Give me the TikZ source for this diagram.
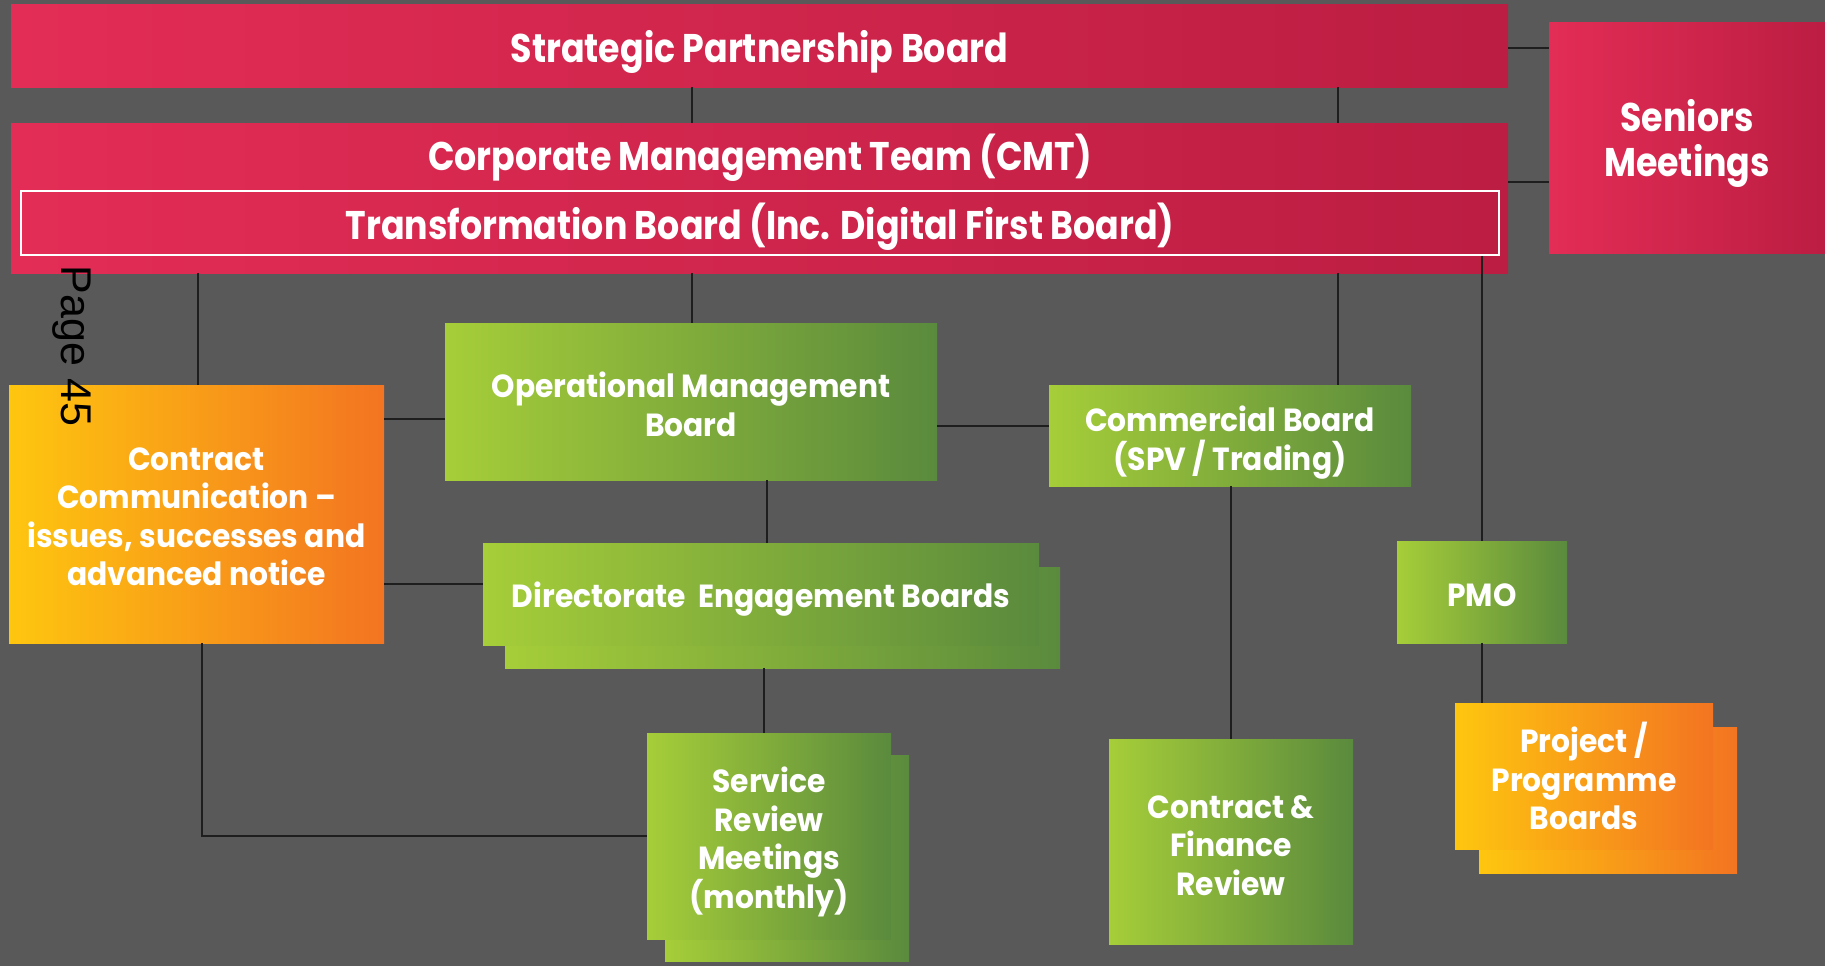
\documentclass[tikz,border=0pt]{standalone}
\usepackage{fontspec}
\setmainfont{Poppins}[FakeStretch=0.93]
\newfontfamily\bigfont{Poppins}[FakeStretch=0.87]
\newfontfamily\pagefont{Liberation Sans}
\definecolor{bg}{HTML}{595959}
\definecolor{redL}{HTML}{E32D56}
\definecolor{redR}{HTML}{BC1D42}
\definecolor{grnL}{HTML}{A6CE39}
\definecolor{grnR}{HTML}{5A8A3D}
\definecolor{orgL}{HTML}{FEC60F}
\definecolor{orgR}{HTML}{F37421}
\definecolor{ln}{HTML}{1E1E1E}
\tikzset{
  box/.style={rectangle, inner sep=0pt},
  redbox/.style={box, left color=redL, right color=redR},
  grnbox/.style={box, left color=grnL, right color=grnR},
  orgbox/.style={box, left color=orgL, right color=orgR},
  txt/.style={inner sep=0pt, text=white, align=center,
    font=\bfseries\fontsize{32}{38.5}\selectfont},
  bigtxt/.style={inner sep=0pt, text=white, align=center,
    font=\bigfont\bfseries\fontsize{40}{45}\selectfont},
  conn/.style={draw=ln, line width=1.6pt},
}
\begin{document}
\begin{tikzpicture}[x=1pt,y=-1pt]
\fill[bg] (0,0) rectangle (1825,966);
\useasboundingbox (0,0) rectangle (1825,966);

% red boards
\node[redbox, minimum width=1497pt, minimum height=82pt] (spb) at (759.5,46) {};
\node[redbox, minimum width=1497pt, minimum height=150pt] (cmt) at (759.5,198) {};
\node[box, draw=white, line width=2.5pt, minimum width=1478pt, minimum height=64pt] (tb) at (760,223) {};
\node[redbox, minimum width=276pt, minimum height=230pt] (sen) at (1687,138) {};

% other boxes
\node[orgbox, minimum width=375pt, minimum height=258pt] (con) at (196.5,514) {};
\node[grnbox, minimum width=492pt, minimum height=157pt] (omb) at (691,401.5) {};
\node[grnbox, minimum width=362pt, minimum height=101pt] (com) at (1230,435.5) {};
\node[grnbox, minimum width=555pt, minimum height=101pt] (debb) at (782.5,617.5) {};
\node[grnbox, minimum width=556pt, minimum height=102pt] (deb) at (761,594) {};
\node[grnbox, minimum width=244pt, minimum height=206pt] (srvb) at (787,858) {};
\node[grnbox, minimum width=244pt, minimum height=206pt] (srv) at (769,836) {};
\node[grnbox, minimum width=244pt, minimum height=205pt] (cf) at (1231,841.5) {};
\node[grnbox, minimum width=170pt, minimum height=102pt] (pmo) at (1482,592) {};
\node[orgbox, minimum width=258pt, minimum height=146pt] (prjb) at (1608,800) {};
\node[orgbox, minimum width=258pt, minimum height=146pt] (prj) at (1584,776) {};

% texts
\node[bigtxt, yshift=-5.5pt] (spbt) at (spb) {Strategic Partnership Board};
\node[bigtxt] (cmtt) at (760,157.5) {Corporate Management Team (CMT)};
\node[bigtxt, yshift=-3.5pt] (tbt) at (tb) {Transformation Board (Inc. Digital First Board)};
\node[bigtxt, yshift=-5pt] (sent) at (sen) {Seniors\\Meetings};
\node[txt, yshift=-3pt] (cont) at (con) {Contract\\Communication --\\issues, successes and\\advanced notice};
\node[txt, yshift=-3pt] (ombt) at (omb) {Operational Management\\Board};
\node[txt, yshift=-7pt] (comt) at (com) {Commercial Board\\(SPV / Trading)};
\node[txt, yshift=-5.5pt] (debt) at (deb) {Directorate\ \ Engagement Boards};
\node[txt, yshift=-6pt] (srvt) at (srv) {Service\\Review\\Meetings\\(monthly)};
\node[txt, yshift=-4pt] (cft) at (cf) {Contract \&\\Finance\\Review};
\node[txt, yshift=-3.5pt] (pmot) at (pmo) {PMO};
\node[txt] (prjt) at (prj) {Project /\\Programme\\Boards};

% helper coordinates
\coordinate (xa) at (692,0);
\coordinate (xb) at (1338,0);
\coordinate (xc) at (198,0);
\coordinate (xd) at (202,0);
\coordinate (xe) at (767,0);
\coordinate (xf) at (764,0);
\coordinate (ya) at (0,48);
\coordinate (yb) at (0,182);
\coordinate (yc) at (0,419);
\coordinate (yd) at (0,426);
\coordinate (ye) at (0,584);

% connectors
\draw[conn] (spb.south -| xa) -- (cmt.north -| xa);
\draw[conn] (spb.south -| xb) -- (cmt.north -| xb);
\draw[conn] (spb.east |- ya) -- (sen.west |- ya);
\draw[conn] (cmt.east |- yb) -- (sen.west |- yb);
\draw[conn] (cmt.south -| xc) -- (con.north -| xc);
\draw[conn] (cmt.south -| xa) -- (omb.north -| xa);
\draw[conn] (cmt.south -| xb) -- (com.north -| xb);
\draw[conn] (pmo.north |- tb.south) -- (pmo.north);
\draw[conn] (con.east |- yc) -- (omb.west |- yc);
\draw[conn] (omb.east |- yd) -- (com.west |- yd);
\draw[conn] (omb.south -| xe) -- (deb.north -| xe);
\draw[conn] (con.east |- ye) -- (deb.west |- ye);
\draw[conn] (debb.south -| xf) -- (srv.north -| xf);
\draw[conn] (con.south -| xd) |- (srv.west);
\draw[conn] (cf.north |- com.south) -- (cf.north);
\draw[conn] (pmo.south) -- (pmo.south |- prj.north);

% page stamp
\node[rotate=-90, text=black, inner sep=0pt, font=\pagefont\fontsize{43}{46}\selectfont] (page) at (72,346) {Page 45};
\end{tikzpicture}
\end{document}
